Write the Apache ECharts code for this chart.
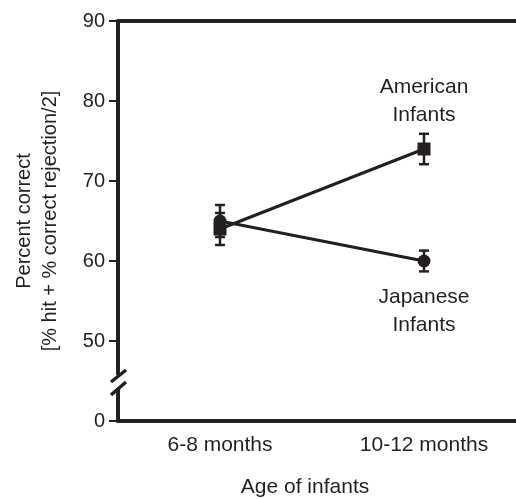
<!DOCTYPE html>
<html><head><meta charset="utf-8">
<script src="https://cdn.jsdelivr.net/npm/echarts@6/dist/echarts.min.js"></script>
<style>html,body{margin:0;padding:0;background:#fff}#c{width:516px;height:499px}</style>
</head><body><div id="c"></div>
<script>
var categories = ['6-8 months', '10-12 months'];
var american = [64, 74];
var americanErr = [[62, 66], [72.1, 75.9]];
var japanese = [65, 60];
var japaneseErr = [[63, 67], [58.7, 61.3]];
var yTickLabels = {40: '0', 50: '50', 60: '60', 70: '70', 80: '80', 90: '90'};
var INK = '#231f20';
var FONT = '"Liberation Sans", Arial, Helvetica, sans-serif';

var chart = echarts.init(document.getElementById('c'));

function errSeries(err) {
  return {
    type: 'custom', z: 3,
    data: err.map(function (e, i) { return [i, e[0], e[1]]; }),
    renderItem: function (params, api) {
      var lo = api.coord([api.value(0), api.value(1)]);
      var hi = api.coord([api.value(0), api.value(2)]);
      var w = 5;
      var st = { stroke: INK, lineWidth: 2.5 };
      return { type: 'group', children: [
        { type: 'line', shape: { x1: lo[0], y1: lo[1], x2: hi[0], y2: hi[1] }, style: st },
        { type: 'line', shape: { x1: lo[0] - w, y1: lo[1], x2: lo[0] + w, y2: lo[1] }, style: st },
        { type: 'line', shape: { x1: hi[0] - w, y1: hi[1], x2: hi[0] + w, y2: hi[1] }, style: st }
      ]};
    }
  };
}

var option = {
  animation: false,
  textStyle: { fontFamily: FONT, color: INK },
  grid: { left: 118, right: -10, top: 21, bottom: 78, outerBoundsMode: 'none', containLabel: false },
  xAxis: [{
    type: 'category', data: categories, position: 'bottom',
    axisLine: { lineStyle: { color: INK, width: 4 } },
    axisTick: { alignWithLabel: true, length: 7, lineStyle: { color: INK, width: 2 } },
    axisLabel: { color: INK, fontSize: 21, margin: 14, fontFamily: FONT },
    name: 'Age of infants', nameLocation: 'middle', nameGap: 56,
    nameTextStyle: { color: INK, fontSize: 21, fontFamily: FONT, padding: [0, 34, 0, 0] }
  }, {
    type: 'category', data: categories, position: 'top',
    axisLine: { lineStyle: { color: INK, width: 4 } },
    axisTick: { show: false }, axisLabel: { show: false }
  }],
  yAxis: {
    type: 'value', min: 40, max: 90, interval: 10,
    splitLine: { show: false },
    axisLine: { show: true, lineStyle: { color: INK, width: 4 } },
    axisTick: { show: true, length: 9, lineStyle: { color: INK, width: 2 } },
    axisLabel: { color: INK, fontSize: 20, margin: 13, fontFamily: FONT,
      formatter: function (v) { return yTickLabels[v] !== undefined ? yTickLabels[v] : ''; } },
    name: 'Percent correct\n[% hit + % correct rejection/2]',
    nameLocation: 'middle', nameGap: 55, nameRotate: 90,
    nameTextStyle: { color: INK, fontSize: 20, lineHeight: 26, fontFamily: FONT }
  },
  series: [
    errSeries(americanErr),
    errSeries(japaneseErr),
    {
      type: 'line', name: 'American', z: 4,
      data: american.map(function (v, i) {
        return i === american.length - 1 ? { value: v, label: { show: true, position: 'top', distance: 13,
          formatter: 'American\nInfants', fontSize: 21, lineHeight: 28, color: INK, fontFamily: FONT } } : v;
      }),
      symbol: 'rect', symbolSize: 13, showAllSymbol: true,
      lineStyle: { color: INK, width: 3 }, itemStyle: { color: INK }
    },
    {
      type: 'line', name: 'Japanese', z: 5,
      data: japanese.map(function (v, i) {
        return i === japanese.length - 1 ? { value: v, label: { show: true, position: 'bottom', distance: 16,
          formatter: 'Japanese\nInfants', fontSize: 21, lineHeight: 28, color: INK, fontFamily: FONT } } : v;
      }),
      symbol: 'circle', symbolSize: 13, showAllSymbol: true,
      lineStyle: { color: INK, width: 3 }, itemStyle: { color: INK }
    }
  ]
};
chart.setOption(option);

// axis break marks drawn at value 45 on the y axis
var yb = chart.convertToPixel({ yAxisIndex: 0 }, 45);
var xAxisPx = 118;
try { xAxisPx = chart.getModel().getComponent('grid', 0).coordinateSystem.getRect().x; } catch (e) {}
chart.setOption({
  graphic: [
    { type: 'rect', z: 100, shape: { x: xAxisPx - 4, y: yb - 6, width: 8, height: 13 }, style: { fill: '#fff' } },
    { type: 'line', z: 101, shape: { x1: xAxisPx - 7, y1: yb + 1, x2: xAxisPx + 8, y2: yb - 11 }, style: { stroke: INK, lineWidth: 3.5 } },
    { type: 'line', z: 101, shape: { x1: xAxisPx - 7, y1: yb + 14, x2: xAxisPx + 8, y2: yb + 1 }, style: { stroke: INK, lineWidth: 3.5 } }
  ]
});
</script></body></html>
